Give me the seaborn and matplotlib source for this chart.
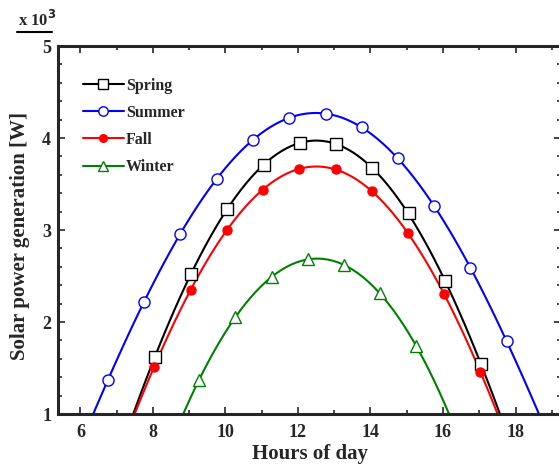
import matplotlib
matplotlib.use("Agg")
import matplotlib.pyplot as plt
import seaborn as sns
import numpy as np
import pandas as pd
from matplotlib.lines import Line2D

seasons = ["Spring", "Summer", "Fall", "Winter"]

spring_x = [8.05, 9.05, 10.05, 11.05, 12.05, 13.05, 14.05, 15.05, 16.05, 17.05]
spring_y = [1.62, 2.52, 3.23, 3.71, 3.95, 3.93, 3.67, 3.18, 2.45, 1.54]

summer_x = [6.76, 7.75, 8.75, 9.76, 10.76, 11.75, 12.76, 13.76, 14.76, 15.75, 16.75, 17.76]
summer_y = [1.37, 2.22, 2.96, 3.55, 3.98, 4.22, 4.26, 4.12, 3.78, 3.26, 2.59, 1.79]

fall_x = [8.03, 9.04, 10.04, 11.03, 12.03, 13.04, 14.04, 15.03, 16.03, 17.03]
fall_y = [1.51, 2.35, 3.00, 3.44, 3.66, 3.66, 3.42, 2.97, 2.30, 1.46]

winter_x = [9.27, 10.27, 11.27, 12.27, 13.27, 14.26, 15.26]
winter_y = [1.37, 2.05, 2.49, 2.68, 2.62, 2.31, 1.74]

xticks = [6, 8, 10, 12, 14, 16, 18]
yticks = [1, 2, 3, 4, 5]

series = {
    "Spring": (spring_x, spring_y),
    "Summer": (summer_x, summer_y),
    "Fall": (fall_x, fall_y),
    "Winter": (winter_x, winter_y),
}
colors = {"Spring": "black", "Summer": "#0000FF", "Fall": "#FF0000", "Winter": "#008000"}
markers = {"Spring": "s", "Summer": "o", "Fall": "o", "Winter": "^"}
faces = {"Spring": "white", "Summer": "white", "Fall": "#FF0000", "Winter": "white"}
msizes = {"Spring": 8.5, "Summer": 8, "Fall": 6.5, "Winter": 8.5}

sns.set_style("ticks")
plt.rcParams["font.family"] = ["Liberation Serif", "DejaVu Serif"]
plt.rcParams["font.weight"] = "bold"

XLIM = (5.38, 19.255)
fig = plt.figure(figsize=(5.59, 4.69), dpi=100)
ax = fig.add_axes([58 / 559, 1 - 414 / 469, 503 / 559, (414 - 46) / 469])
ax.set_xlim(*XLIM)
ax.set_ylim(1, 5)

handles = []
for s in seasons:
    xs, ys = series[s]
    df = pd.DataFrame({"x": xs, "y": ys})
    sns.regplot(data=df, x="x", y="y", order=4, ci=None, truncate=False, scatter=False,
                ax=ax, line_kws=dict(color=colors[s], lw=1.5, zorder=2))
    ax.plot(xs, ys, linestyle="none", marker=markers[s], ms=msizes[s],
            mfc=faces[s], mec=colors[s], mew=1.0, zorder=3, clip_on=False)
    handles.append(Line2D([], [], color=colors[s], lw=1.5, marker=markers[s], ms=msizes[s],
                          mfc=faces[s], mec=colors[s], mew=1.0, label=s))

ax.set_xlim(*XLIM)
ax.set_ylim(1, 5)
ax.set_xticks(xticks)
ax.set_yticks(yticks)
ax.set_xticks(np.arange(7, 20, 2), minor=True)
ax.set_yticks(np.arange(1, 5.01, 0.2), minor=True)
ax.tick_params(which="both", direction="in", top=True, right=True, width=1.2)
ax.tick_params(which="major", length=5, labelsize=13)
ax.tick_params(axis="x", which="major", pad=7)
ax.tick_params(axis="y", which="major", pad=5)
ax.tick_params(which="minor", length=3)
for lab in ax.get_xticklabels() + ax.get_yticklabels():
    lab.set_fontweight("bold")
for sp in ax.spines.values():
    sp.set_linewidth(2.2)

ax.set_xlabel("Hours of day", fontsize=15, fontweight="bold", labelpad=2)
ax.set_ylabel("Solar power generation [W]", fontsize=15, fontweight="bold")
ax.yaxis.set_label_coords(-28 / 503, (414 - 235.5) / 368)

leg = ax.legend(handles=handles, loc="upper left", bbox_to_anchor=(0.03, 0.94), frameon=False,
                prop=dict(size=11.5, weight="bold"), handlelength=2.6, handletextpad=0.1,
                labelspacing=0.7, borderaxespad=0.2, markerscale=0.85)

fig.text(18 / 559, 1 - 20 / 469, r"x 10$^{\mathbf{3}}$", fontsize=12, fontweight="bold",
         ha="left", va="center")
fig.add_artist(Line2D([17 / 559, 52 / 559], [1 - 32 / 469, 1 - 32 / 469], color="black", lw=1.5))

fig.savefig("out.png", dpi=100)
